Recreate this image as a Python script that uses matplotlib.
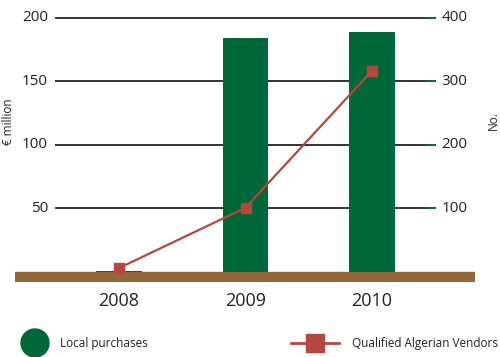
import matplotlib
matplotlib.use("Agg")
import matplotlib.pyplot as plt
from matplotlib.patches import Circle

plt.rcParams['font.family'] = ['Open Sans', 'DejaVu Sans']

years = ["2008", "2009", "2010"]
purchases = [1, 184, 189]        # € million
vendors = [6, 101, 317]          # number of vendors
left_ticks = [50, 100, 150, 200]
right_ticks = [100, 200, 300, 400]

green = "#006838"
red = "#b5473f"
brown = "#94673a"
grid = "#333333"

fig = plt.figure(figsize=(5, 3.57), dpi=100)
ax = fig.add_axes([0.03, 1 - 282 / 357, 0.92, (282 - 18) / 357])
ax2 = ax.twinx()

x = range(len(years))
ax.set_xlim(-0.822, 2.814)
ax.set_ylim(-8, 200)
ax2.set_ylim(-16, 400)

# horizontal rules between the two label columns
for v in left_ticks:
    ax.plot([-0.50, 2.43], [v, v], color=grid, lw=1.4, zorder=1, clip_on=False)
    ax.plot([2.43, 2.50], [v, v], color=green, lw=1.4, zorder=1, clip_on=False)
    ax.text(-0.56, v, str(v), ha="right", va="center", fontsize=11, color="#222222")
for v in right_ticks:
    ax2.text(2.55, v, str(v), ha="left", va="center", fontsize=11, color="#222222")

ax.axhspan(-8, 0, color=brown, zorder=2)
ax.bar(x, purchases, width=0.36, color=green, zorder=3)
ax2.plot(x, vendors, color=red, lw=1.6, marker="s", markersize=7.5, zorder=4)

for i, y in zip(x, years):
    ax.text(i, -16, y, ha="center", va="top", fontsize=13, color="#222222")

ax.text(-0.87, 118, "€ million", rotation=90, ha="center", va="center",
        fontsize=8.5, color="#222222")
ax2.text(2.96, 238, "No.", rotation=90, ha="center", va="center",
         fontsize=8.5, color="#222222")

for a in (ax, ax2):
    a.set_xticks([])
    a.set_yticks([])
    for s in a.spines.values():
        s.set_visible(False)
    a.patch.set_visible(False)

# legend drawn in pixel space
leg = fig.add_axes([0, 0, 1, 1], zorder=-1)
leg.set_xlim(0, 500)
leg.set_ylim(357, 0)
leg.axis("off")
leg.add_patch(Circle((35, 343), 14, color=green))
leg.text(60, 343, "Local purchases", va="center", ha="left", fontsize=8.5, color="#222222")
leg.plot([291, 339], [343, 343], color=red, lw=2)
leg.plot([315], [343], marker="s", markersize=13, color=red)
leg.text(352, 343, "Qualified Algerian Vendors", va="center", ha="left", fontsize=8.5,
         color="#222222")

fig.savefig("out.png", dpi=100)
